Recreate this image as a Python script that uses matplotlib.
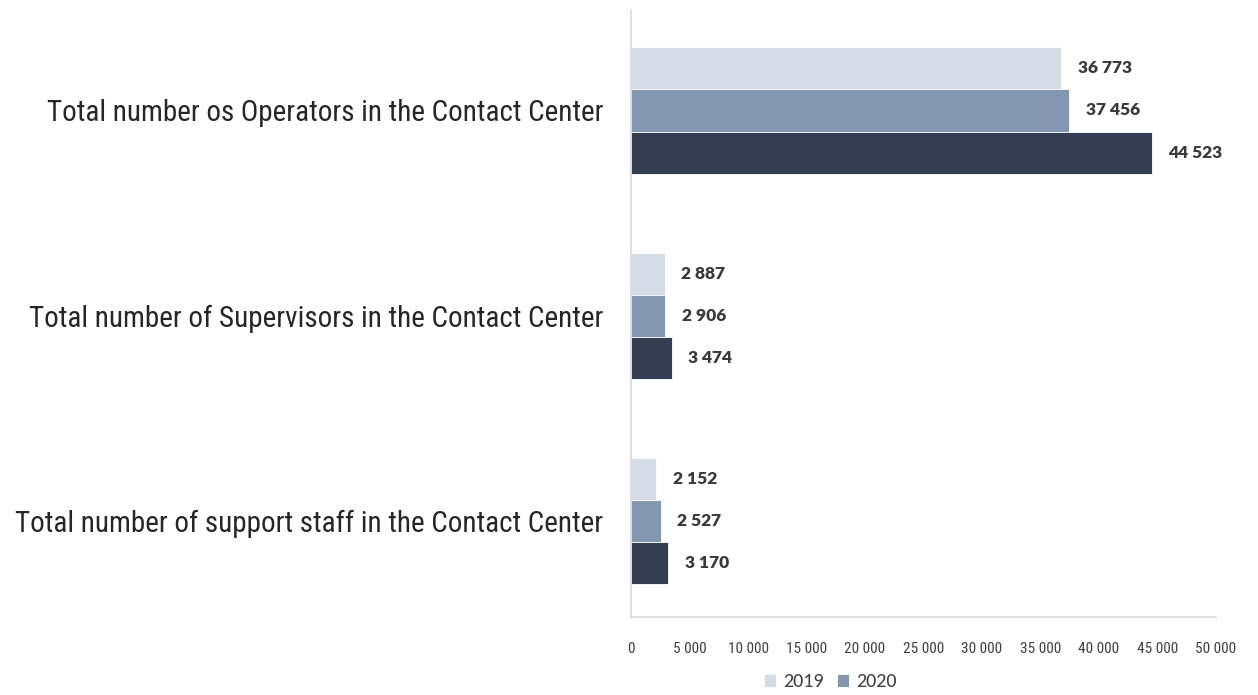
import matplotlib
matplotlib.use('Agg')
import matplotlib.pyplot as plt
from matplotlib import font_manager

# Datos por categoría (de arriba hacia abajo)
categorias = [
    'Total number os Operators in the Contact Center',
    'Total number of Supervisors in the Contact Center',
    'Total number of support staff in the Contact Center',
]
vals_2019 = [36773, 2887, 2152]
vals_2020 = [37456, 2906, 2527]
vals_2021 = [44523, 3474, 3170]

series = [('2019', vals_2019), ('2020', vals_2020), ('2021', vals_2021)]
colores = ['#D6DCE5', '#8497B0', '#333F50']
ticks_x = list(range(0, 50001, 5000))


def fmt_miles(v):
    return f'{v:,}'.replace(',', ' ')


def fuente(nombres):
    disponibles = {f.name for f in font_manager.fontManager.ttflist}
    for n in nombres:
        if n in disponibles:
            return n
    return 'DejaVu Sans'


f_cat = fuente(['Liberation Sans Narrow', 'Arial Narrow', 'Roboto Condensed',
                'Archivo Narrow', 'Liberation Sans'])
f_val = fuente(['Lato', 'Open Sans'])
f_ley = fuente(['Carlito', 'Calibri', 'Lato'])

fig = plt.figure(figsize=(12.58, 6.95), dpi=100)
ax = fig.add_axes([0.5016, 0.1122, 0.465, 0.8734])

alto = 0.205
barras = []
for i, ((nombre, vals), color) in enumerate(zip(series, colores)):
    pos = [k + (i - 1) * alto for k in range(len(categorias))]
    b = ax.barh(pos, vals, height=alto, color=color, label=nombre,
                edgecolor='white', linewidth=0.6)
    barras.append(b)
    for p, v in zip(pos, vals):
        ax.annotate(fmt_miles(v), xy=(v, p), xytext=(12, 0),
                    textcoords='offset points', va='center', ha='left',
                    fontsize=12.5, fontweight='heavy', color='#3A3A3A',
                    family=f_val)

ax.set_xlim(0, 50000)
ax.set_ylim(2.47, -0.49)
ax.set_xticks(ticks_x)
ax.set_xticklabels([fmt_miles(t) for t in ticks_x], family=f_cat,
                   fontsize=11, color='#404040')
ax.tick_params(axis='both', length=0)
ax.tick_params(axis='x', pad=18)
ax.set_yticks(range(len(categorias)))
ax.set_yticklabels(categorias, family=f_cat, fontsize=21, color='#262626')
ax.tick_params(axis='y', pad=20)

for lado in ['top', 'right']:
    ax.spines[lado].set_visible(False)
for lado in ['left', 'bottom']:
    ax.spines[lado].set_color('#D9D9D9')
    ax.spines[lado].set_linewidth(1.2)

# Leyenda solo con las dos primeras series
fig.legend(barras[:2], [s[0] for s in series[:2]], loc='center',
           bbox_to_anchor=(0.66, 0.019), ncol=2, frameon=False,
           prop={'family': f_ley, 'size': 14.5}, handlelength=0.6,
           handleheight=0.6, handletextpad=0.35, columnspacing=0.7,
           labelcolor='#404040')

fig.savefig('out.png', dpi=100)
